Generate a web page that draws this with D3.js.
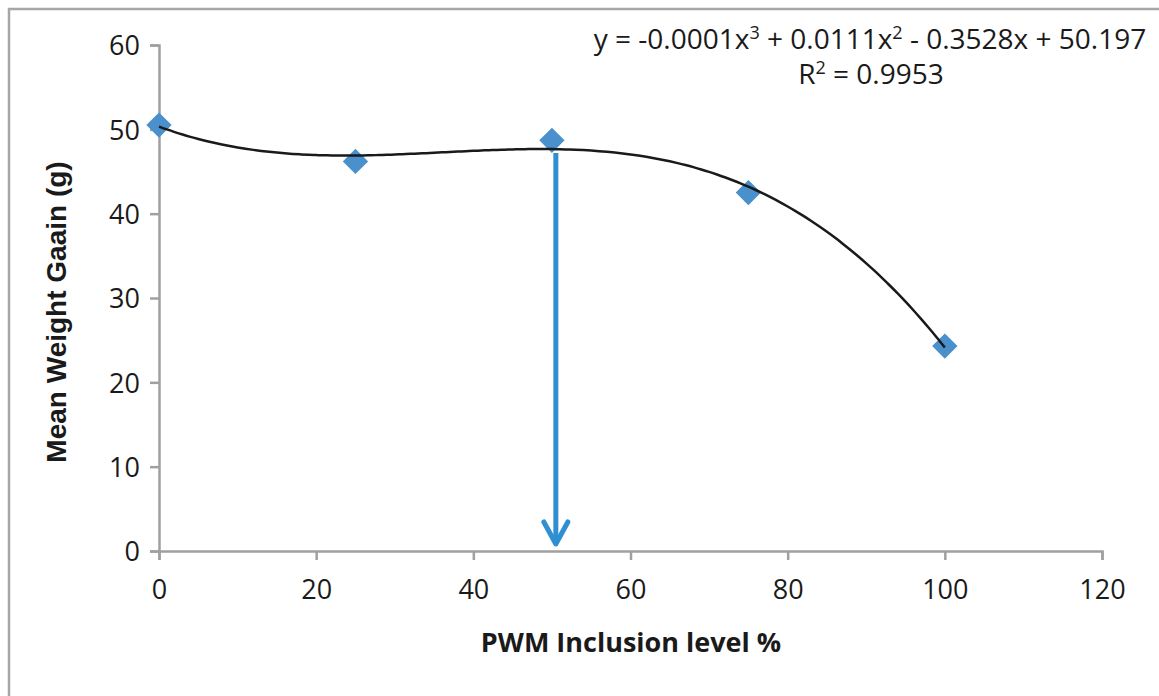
<!DOCTYPE html>
<html>
<head>
<meta charset="utf-8">
<script src="https://cdn.jsdelivr.net/npm/d3@7"></script>
<style>
body{margin:0;background:#fff;}
svg{display:block;}
</style>
</head>
<body>
<svg width="1159" height="696"></svg>
<script>
// data
var levels=[0,25,50,75,100];
var gains=[50.5,46.2,48.7,42.5,24.3];
var xTicks=[0,20,40,60,80,100,120];
var yTicks=[0,10,20,30,40,50,60];
var eqLine1=["y = -0.0001x","3"," + 0.0111x","2"," - 0.3528x + 50.197"];
var eqLine2=["R","2"," = 0.9953"];
var arrowAt=[50.5];
var arrowFrom=[47.2];
var arrowTo=[0.6];

// least squares cubic, like the spreadsheet trendline
var polyFit=function(xs,ys,deg){
  var n=deg+1;
  var A=[];
  for(var i=0;i<n;i++){
    A.push([]);
    for(var j=0;j<=n;j++) A[i].push(0);
  }
  for(var k=0;k<xs.length;k++){
    for(var i=0;i<n;i++){
      for(var j=0;j<n;j++) A[i][j]+=Math.pow(xs[k],i+j);
      A[i][n]+=Math.pow(xs[k],i)*ys[k];
    }
  }
  for(var i=0;i<n;i++){
    var p=i;
    for(var r=i+1;r<n;r++) if(Math.abs(A[r][i])>Math.abs(A[p][i])) p=r;
    var t=A[i];A[i]=A[p];A[p]=t;
    for(var r=0;r<n;r++){
      if(r==i) continue;
      var f=A[r][i]/A[i][i];
      for(var j=i;j<=n;j++) A[r][j]-=f*A[i][j];
    }
  }
  var c=[];
  for(var i=0;i<n;i++) c.push(A[i][n]/A[i][i]);
  return c;
};

var drawGraph=function(){
  let svg=d3.select('svg');
  let margin={top:45,left:159};
  let plotWidth=943, plotHeight=506;

  svg.append('rect')
    .attr('x',9).attr('y',9)
    .attr('width',1200).attr('height',800)
    .attr('fill','none').attr('stroke','#a6a6a6').attr('stroke-width',2.5);

  let xScale=d3.scaleLinear().domain([0,120]).range([0,plotWidth]);
  let yScale=d3.scaleLinear().domain([0,60]).range([plotHeight,0]);

  let plot=svg.append('g').attr('transform','translate('+margin.left+','+margin.top+')');

  let xGroup=plot.append('g').attr('transform','translate(0,'+plotHeight+')')
    .call(d3.axisBottom(xScale).tickValues(xTicks).tickSize(9).tickPadding(22).tickSizeOuter(9));
  let yGroup=plot.append('g')
    .call(d3.axisLeft(yScale).tickValues(yTicks).tickSize(9).tickPadding(10).tickSizeOuter(9));
  [xGroup,yGroup].forEach(function(g){
    g.select('.domain').attr('stroke','#a0a0a0').attr('stroke-width',2.5);
    g.selectAll('.tick line').attr('stroke','#a0a0a0').attr('stroke-width',2.5);
    g.selectAll('.tick text').attr('fill','#1a1a1a')
      .style('font-family','"Open Sans", sans-serif').style('font-size','27px');
  });
  yGroup.selectAll('.tick text').attr('dy','0.36em');
  xGroup.selectAll('.tick text').attr('dy','0.62em');

  // trendline
  let coef=polyFit(levels,gains,3);
  let curve=d3.range(0,100.01,1).map(function(x){
    return [x,coef[0]+coef[1]*x+coef[2]*x*x+coef[3]*x*x*x];
  });
  let line=d3.line()
    .x(function(d){return xScale(d[0]);})
    .y(function(d){return yScale(d[1]);})
    .curve(d3.curveMonotoneX);

  // points
  let diamond=d3.symbol().type(d3.symbolSquare).size(320);
  plot.selectAll('path.pt')
    .data(levels)
    .enter().append('path')
    .attr('class','pt')
    .attr('d',diamond)
    .attr('transform',function(d,i){return 'translate('+xScale(d)+','+yScale(gains[i])+') rotate(45)';})
    .attr('fill','#4a90cc');

  plot.append('path').datum(curve)
    .attr('d',line)
    .attr('fill','none').attr('stroke','#1a1a1a').attr('stroke-width',2.5);

  // arrow
  let ax=xScale(arrowAt[0]), y1=yScale(arrowFrom[0]), y2=yScale(arrowTo[0]);
  plot.append('line')
    .attr('x1',ax).attr('x2',ax).attr('y1',y1).attr('y2',y2-2)
    .attr('stroke','#2f8fd0').attr('stroke-width',5);
  plot.append('path')
    .attr('d',d3.line()([[ax-12,y2-24],[ax,y2-2],[ax+12,y2-24]]))
    .attr('fill','none').attr('stroke','#2f8fd0').attr('stroke-width',5)
    .attr('stroke-linecap','round').attr('stroke-linejoin','round');

  // equation
  let eq=svg.append('text')
    .attr('x',870).attr('y',49)
    .attr('text-anchor','middle')
    .attr('fill','#1a1a1a')
    .style('font-family','"Open Sans", sans-serif').style('font-size','28px');
  eqLine1.forEach(function(s,i){
    let ts=eq.append('tspan').text(s);
    if(i%2==1) ts.attr('dy',-10).style('font-size','18px');
    else if(i>0) ts.attr('dy',10);
  });
  let r2=svg.append('text')
    .attr('x',871).attr('y',84)
    .attr('text-anchor','middle')
    .attr('fill','#1a1a1a')
    .style('font-family','"Open Sans", sans-serif').style('font-size','28px');
  eqLine2.forEach(function(s,i){
    let ts=r2.append('tspan').text(s);
    if(i%2==1) ts.attr('dy',-10).style('font-size','18px');
    else if(i>0) ts.attr('dy',10);
  });

  // axis titles
  svg.append('text')
    .text('PWM Inclusion level %')
    .attr('x',631).attr('y',652)
    .attr('text-anchor','middle')
    .attr('fill','#1a1a1a')
    .style('font-family','"Open Sans", sans-serif').style('font-weight','bold').style('font-size','27px');
  svg.append('text')
    .text('Mean Weight Gaain (g)')
    .attr('text-anchor','middle')
    .attr('transform','translate(66,312) rotate(-90)')
    .attr('fill','#1a1a1a')
    .style('font-family','"Liberation Sans", Arial, sans-serif').style('font-weight','bold').style('font-size','28px');
};
drawGraph();
</script>
</body>
</html>
